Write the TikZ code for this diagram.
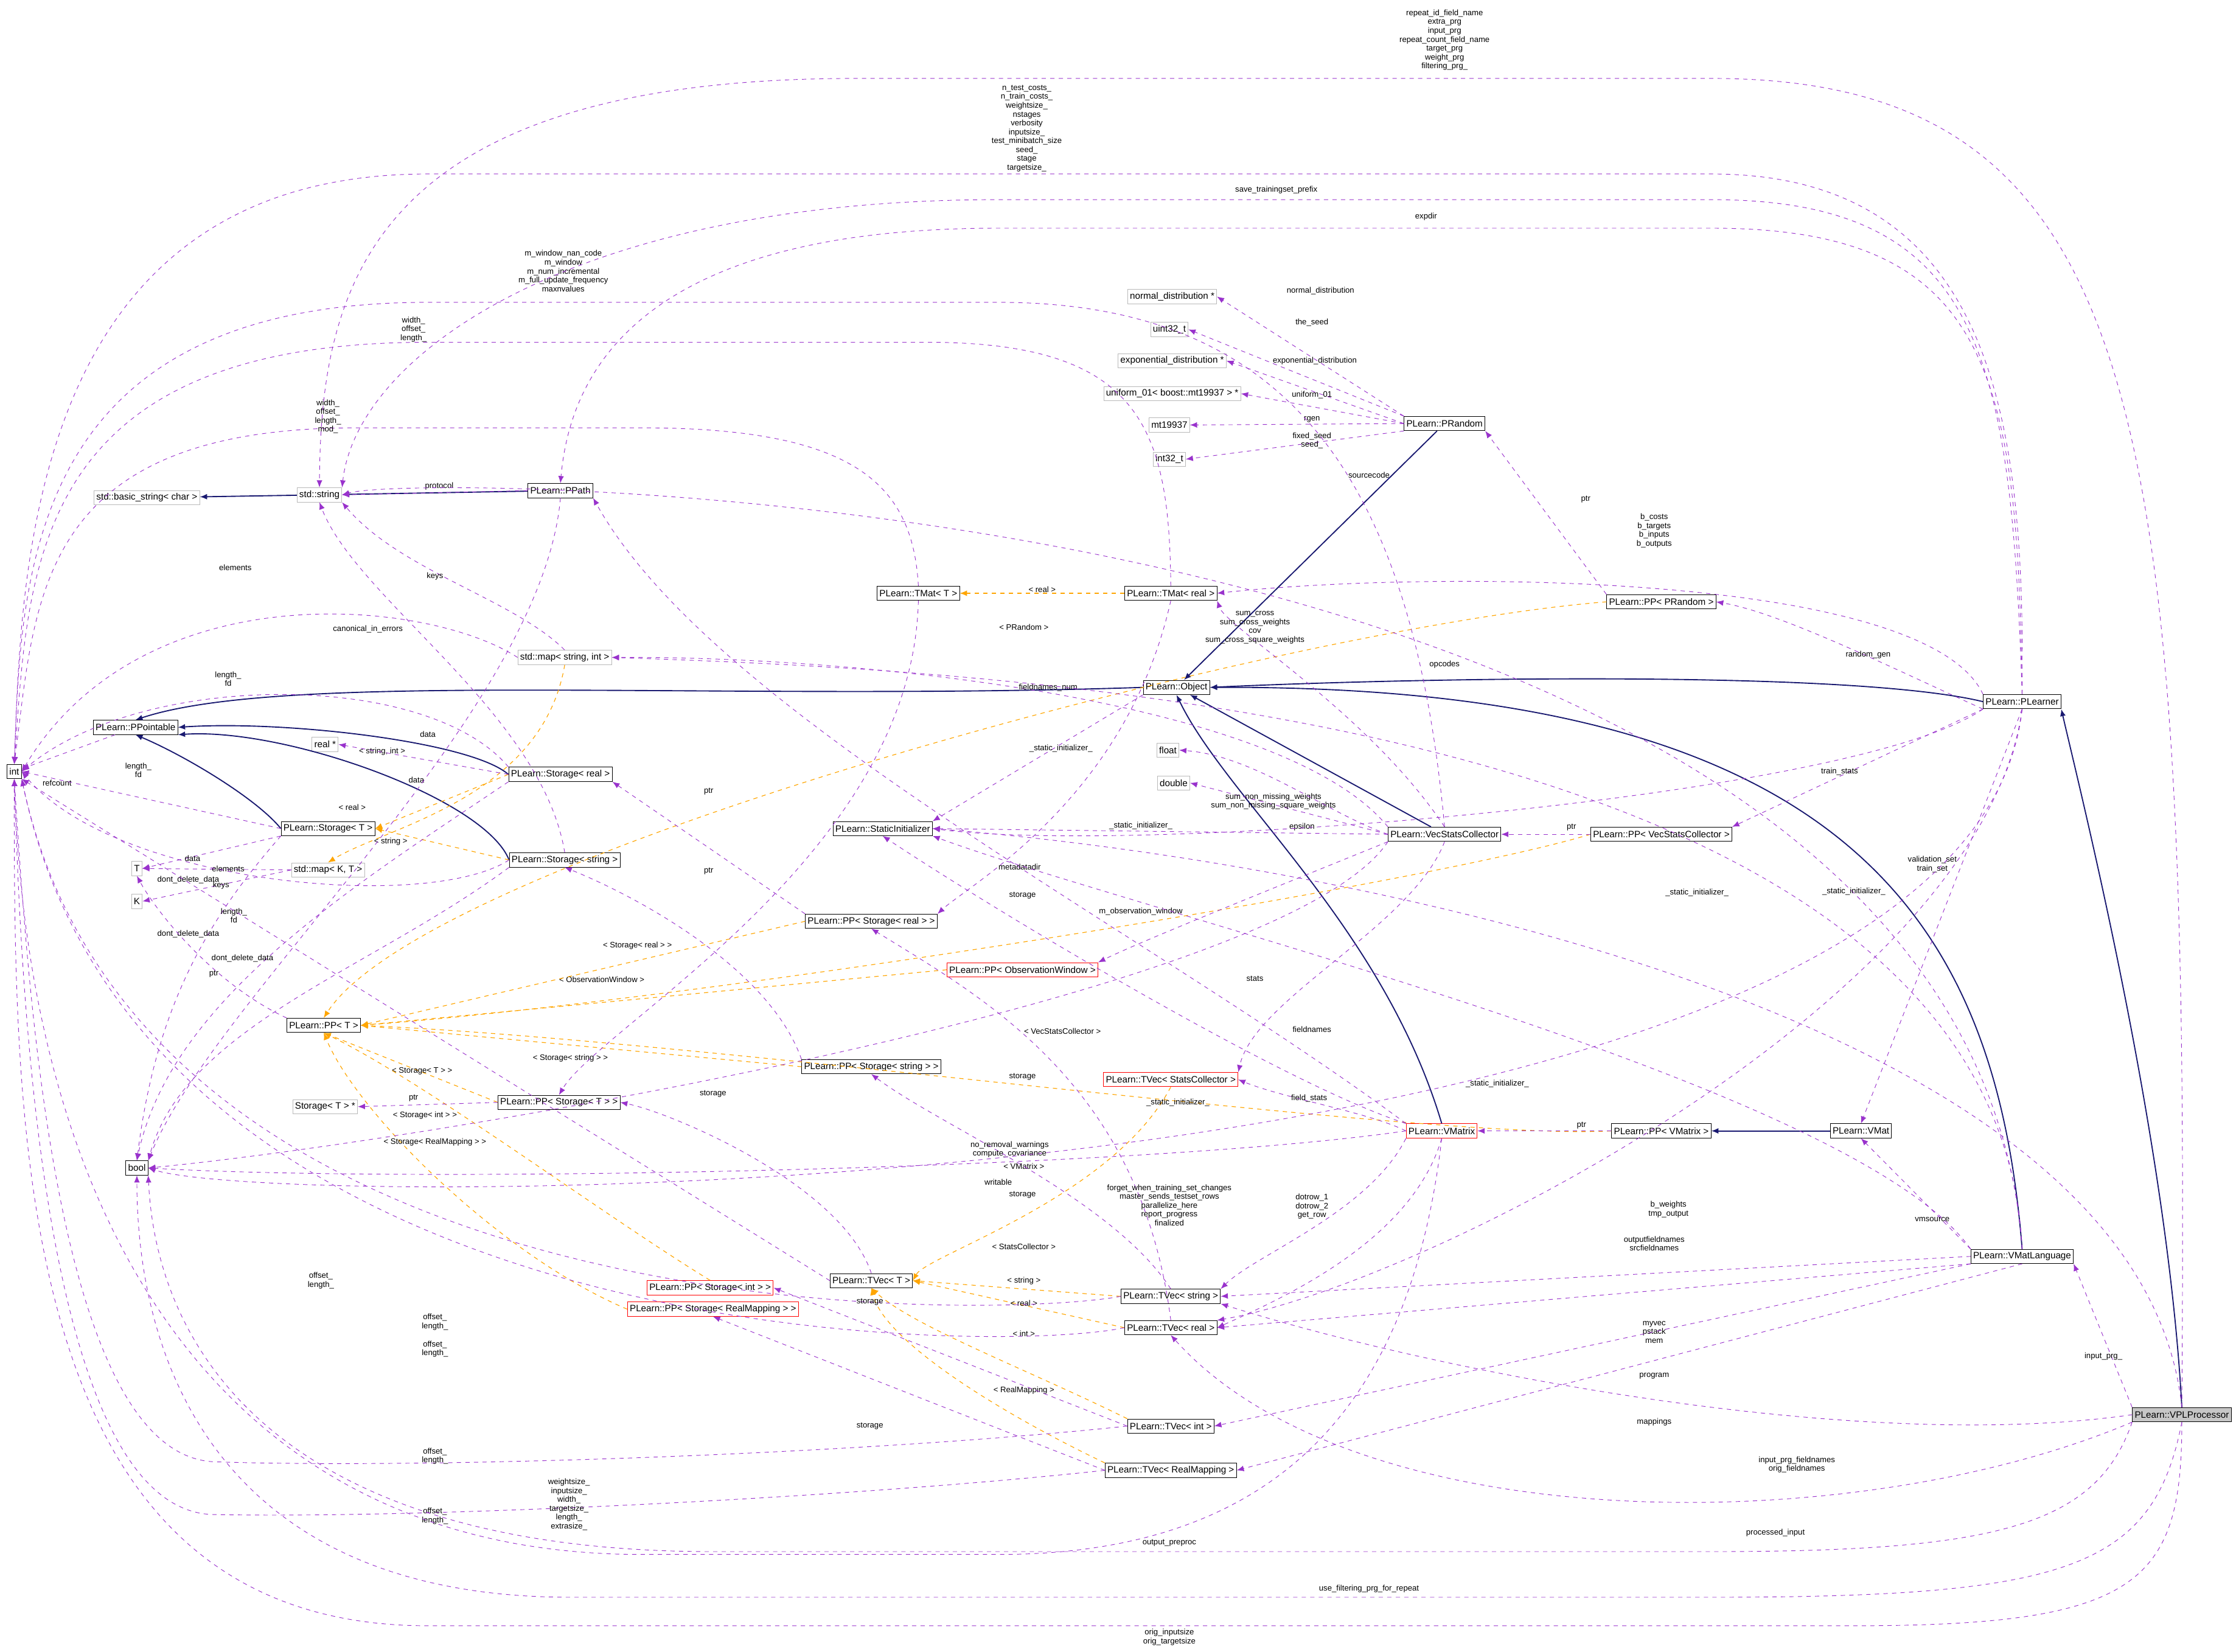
\documentclass[tikz,border=0pt]{standalone}
\usepackage{fontspec}
\setmainfont{Liberation Sans}
\usetikzlibrary{arrows.meta}

\definecolor{navyline}{RGB}{25,25,112}
\definecolor{useline}{RGB}{153,50,204}
\definecolor{tmplline}{RGB}{255,165,0}

\tikzset{
    cls/.style={draw=black, fill=white, font=\fontsize{6.5}{7}\selectfont, inner sep=1.6pt, minimum height=10pt},
    redcls/.style={cls, draw=red},
    graycls/.style={cls, draw=gray!55},
    selcls/.style={cls, fill=gray!45},
    inh/.style={navyline, line width=0.8pt, -{Latex[length=5pt,width=4pt]}},
    uses/.style={useline, dashed, line width=0.4pt, -{Latex[length=5pt,width=4pt]}},
    tmpl/.style={tmplline, dashed, line width=0.5pt, -{Latex[length=5pt,width=4pt]}},
    lbl/.style={font=\fontsize{5.6}{6.2}\selectfont, align=center, inner sep=0.5pt, text=black},
}

\begin{document}
\begin{tikzpicture}[x=1pt, y=-1pt]
        % bounding box of the picture
        \useasboundingbox (0,0) rectangle (1568,1158);

        % basic types
        \node [cls] (int) at (10,541) {int};
        \node [cls] (bool) at (96,819) {bool};
        \node [graycls] (T) at (96,609) {T};
        \node [graycls] (K) at (96,632) {K};
        \node [graycls] (bstr) at (103,349) {std::basic\_string< char >};
        \node [graycls] (str) at (224,347) {std::string};
        \node [graycls] (realp) at (228,522) {real *};
        \node [graycls] (mapKT) at (230,610) {std::map< K, T >};
        \node [graycls] (stTp) at (228,776) {Storage< T > *};
        \node [graycls] (mapSI) at (396,461) {std::map< string, int >};
        \node [graycls] (float) at (819,526) {float};
        \node [graycls] (double) at (823,549) {double};
        \node [graycls] (ndist) at (822,208) {normal\_distribution *};
        \node [graycls] (u32) at (820,231) {uint32\_t};
        \node [graycls] (edist) at (822,253) {exponential\_distribution *};
        \node [graycls] (unif) at (822,276) {uniform\_01< boost::mt19937 > *};
        \node [graycls] (mt) at (820,298) {mt19937};
        \node [graycls] (i32) at (820,322) {int32\_t};

        % PLearn classes
        \node [cls] (ppt) at (95,510) {PLearn::PPointable};
        \node [cls] (stT) at (230,581) {PLearn::Storage< T >};
        \node [cls] (ppT) at (227,719) {PLearn::PP< T >};
        \node [cls] (ppath) at (393,344) {PLearn::PPath};
        \node [cls] (stR) at (393,543) {PLearn::Storage< real >};
        \node [cls] (stS) at (396,603) {PLearn::Storage< string >};
        \node [cls] (ppST) at (392,773) {PLearn::PP< Storage< T > >};
        \node [cls] (tmatT) at (644,416) {PLearn::TMat< T >};
        \node [cls] (sinit) at (619,581) {PLearn::StaticInitializer};
        \node [cls] (ppSR) at (611,646) {PLearn::PP< Storage< real > >};
        \node [cls] (ppSS) at (611,748) {PLearn::PP< Storage< string > >};
        \node [redcls] (ppSI) at (498,903) {PLearn::PP< Storage< int > >};
        \node [redcls] (ppSRM) at (500,918) {PLearn::PP< Storage< RealMapping > >};
        \node [cls] (tvT) at (611,898) {PLearn::TVec< T >};
        \node [cls] (tvI) at (821,1000) {PLearn::TVec< int >};
        \node [cls] (tvRM) at (821,1031) {PLearn::TVec< RealMapping >};
        \node [cls] (tvS) at (821,909) {PLearn::TVec< string >};
        \node [cls] (tvR) at (821,931) {PLearn::TVec< real >};
        \node [redcls] (ppOW) at (717,680) {PLearn::PP< ObservationWindow >};
        \node [redcls] (tvSC) at (821,757) {PLearn::TVec< StatsCollector >};
        \node [redcls] (vmx) at (1011,793) {PLearn::VMatrix};
        \node [cls] (tmatR) at (821,416) {PLearn::TMat< real >};
        \node [cls] (obj) at (825,482) {PLearn::Object};
        \node [cls] (vsc) at (1013,585) {PLearn::VecStatsCollector};
        \node [cls] (prand) at (1013,297) {PLearn::PRandom};
        \node [cls] (ppPR) at (1165,422) {PLearn::PP< PRandom >};
        \node [cls] (ppVSC) at (1165,585) {PLearn::PP< VecStatsCollector >};
        \node [cls] (ppVM) at (1165,793) {PLearn::PP< VMatrix >};
        \node [cls] (pl) at (1418,492) {PLearn::PLearner};
        \node [cls] (vmat) at (1305,793) {PLearn::VMat};
        \node [cls] (vml) at (1418,881) {PLearn::VMatLanguage};
        \node [selcls] (vpl) at (1530,992) {PLearn::VPLProcessor};

        % inheritance
        \draw [inh] (str) -- (bstr);
        \draw [inh] (ppath) -- (str);
        \draw [inh] (obj.west) .. controls (500,492) and (200,470) .. (ppt.north);
        \draw [inh] (stT.west) .. controls (180,560) and (130,530) .. (ppt.south);
        \draw [inh] (stR.west) .. controls (330,520) and (200,505) .. (ppt.east);
        \draw [inh] (stS.west) .. controls (340,560) and (200,510) .. (ppt.south east);
        \draw [inh] (prand) -- (obj);
        \draw [inh] (pl.west) .. controls (1300,470) and (1000,475) .. (obj.east);
        \draw [inh] (vsc) -- (obj);
        \draw [inh] (vmx.north) .. controls (970,650) and (860,560) .. (obj.south);
        \draw [inh] (vml.north) .. controls (1400,650) and (1300,480) .. (obj.east);
        \draw [inh] (vpl.north) .. controls (1520,800) and (1460,560) .. (pl.south east);
        \draw [inh] (vmat) -- (ppVM);

        % template instances
        \draw [tmpl] (tmatR) -- node[lbl, above] {< real >} (tmatT);
        \draw [tmpl] (ppPR.west) .. controls (900,440) and (300,600) .. (ppT.north);
        \node [lbl] at (718,440) {< PRandom >};
        \draw [tmpl] (ppVSC.west) .. controls (1000,620) and (500,700) .. (ppT.east);
        \node [lbl] at (745,723) {< VecStatsCollector >};
        \draw [tmpl] (ppOW.west) -- (ppT.east);
        \node [lbl] at (422,687) {< ObservationWindow >};
        \draw [tmpl] (ppSR.west) -- (ppT.east);
        \node [lbl] at (447,663) {< Storage< real > >};
        \draw [tmpl] (ppSS.west) -- (ppT.east);
        \node [lbl] at (400,742) {< Storage< string > >};
        \draw [tmpl] (ppST.west) -- (ppT.south);
        \node [lbl] at (296,751) {< Storage< T > >};
        \draw [tmpl] (ppSI.north) .. controls (420,850) and (300,760) .. (ppT.south);
        \node [lbl] at (298,782) {< Storage< int > >};
        \draw [tmpl] (ppSRM.west) .. controls (350,880) and (250,780) .. (ppT.south);
        \node [lbl] at (305,801) {< Storage< RealMapping > >};
        \draw [tmpl] (ppVM.west) .. controls (1000,800) and (500,730) .. (ppT.east);
        \node [lbl] at (718,818) {< VMatrix >};
        \draw [tmpl] (stR.west) -- (stT.east);
        \node [lbl] at (247,566) {< real >};
        \draw [tmpl] (stS.west) -- (stT.east);
        \node [lbl] at (274,590) {< string >};
        \draw [tmpl] (mapSI.south) .. controls (380,560) and (270,580) .. (mapKT.north);
        \node [lbl] at (268,527) {< string, int >};
        \draw [tmpl] (tvSC.south) .. controls (780,840) and (650,880) .. (tvT.east);
        \node [lbl] at (718,874) {< StatsCollector >};
        \draw [tmpl] (tvS.west) -- (tvT.east);
        \node [lbl] at (718,898) {< string >};
        \draw [tmpl] (tvR.west) -- (tvT.east);
        \node [lbl] at (718,914) {< real >};
        \draw [tmpl] (tvI.north west) .. controls (720,960) and (640,930) .. (tvT.south);
        \node [lbl] at (718,935) {< int >};
        \draw [tmpl] (tvRM.north west) .. controls (700,990) and (620,940) .. (tvT.south);
        \node [lbl] at (718,975) {< RealMapping >};

        % members: storage and small classes
        \draw [uses] (ppt) -- (int);
        \node [lbl] at (40,549) {refcount};
        \draw [uses] (stT.west) -- (int.east);
        \node [lbl] at (97,540) {length\_\\fd};
        \draw [uses] (stT.south west) -- (T.east);
        \node [lbl] at (135,602) {data};
        \draw [uses] (stT.south west) .. controls (150,640) and (110,700) .. (bool.north);
        \node [lbl] at (132,617) {dont\_delete\_data};
        \draw [uses] (mapKT.west) -- (T.east);
        \node [lbl] at (160,609) {elements};
        \draw [uses] (mapKT.west) -- (K.east);
        \node [lbl] at (155,621) {keys};
        \draw [uses] (stR.west) -- (realp.east);
        \node [lbl] at (300,515) {data};
        \draw [uses] (stR.north west) .. controls (300,470) and (100,470) .. (int.east);
        \node [lbl] at (160,476) {length\_\\fd};
        \draw [uses] (stR.south west) .. controls (250,620) and (120,700) .. (bool.north);
        \node [lbl] at (132,655) {dont\_delete\_data};
        \draw [uses] (stS.north) .. controls (380,500) and (250,420) .. (str.south);
        \node [lbl] at (292,547) {data};
        \draw [uses] (stS.west) .. controls (300,640) and (80,620) .. (int.east);
        \node [lbl] at (164,642) {length\_\\fd};
        \draw [uses] (stS.south west) .. controls (260,680) and (130,720) .. (bool.north east);
        \node [lbl] at (170,672) {dont\_delete\_data};
        \draw [uses] (ppT.north west) .. controls (150,690) and (110,640) .. (T.south);
        \node [lbl] at (150,683) {ptr};
        \draw [uses] (ppST.west) -- (stTp.east);
        \node [lbl] at (290,770) {ptr};
        \draw [uses] (mapSI.west) .. controls (300,420) and (100,400) .. (int.east);
        \node [lbl] at (165,398) {elements};
        \draw [uses] (mapSI.north) .. controls (360,420) and (280,400) .. (str.south east);
        \node [lbl] at (305,404) {keys};
        \draw [uses] (ppath.south) .. controls (380,500) and (150,700) .. (bool.north east);
        \node [lbl] at (258,441) {canonical\_in\_errors};
        \draw [uses] (ppath.west) -- (str.east);
        \node [lbl] at (308,341) {protocol};

        % TMat and TVec
        \draw [uses] (tmatT.north) .. controls (640,340) and (600,300) .. (450,300) -- (250,300) .. controls (25,300) and (25,420) .. (int.north);
        \node [lbl] at (230,292) {width\_\\offset\_\\length\_\\mod\_};
        \draw [uses] (tmatT.south) .. controls (640,600) and (420,720) .. (ppST.north);
        \draw [uses] (tmatR.north) .. controls (820,300) and (800,240) .. (650,240) -- (300,240) .. controls (20,240) and (20,400) .. (int.north);
        \node [lbl] at (290,231) {width\_\\offset\_\\length\_};
        \draw [uses] (tmatR.south) .. controls (790,560) and (680,620) .. (ppSR.north east);
        \node [lbl] at (717,628) {storage};
        \draw [uses] (ppSR.north west) -- (stR.south east);
        \node [lbl] at (497,555) {ptr};
        \draw [uses] (ppSS.north west) .. controls (540,680) and (450,630) .. (stS.south);
        \node [lbl] at (497,611) {ptr};
        \draw [uses] (tvT.west) -- (int.south east);
        \node [lbl] at (225,898) {offset\_\\length\_};
        \draw [uses] (tvT.north) .. controls (590,830) and (470,780) .. (ppST.east);
        \node [lbl] at (500,767) {storage};
        \draw [uses] (tvS.west) .. controls (700,925) and (100,940) .. (int.south east);
        \node [lbl] at (305,927) {offset\_\\length\_};
        \draw [uses] (tvS.north) .. controls (780,840) and (660,790) .. (ppSS.south);
        \node [lbl] at (717,838) {storage};
        \draw [uses] (tvR.west) .. controls (700,950) and (100,950) .. (int.south east);
        \node [lbl] at (305,946) {offset\_\\length\_};
        \draw [uses] (tvR.north) .. controls (800,760) and (690,700) .. (ppSR.south);
        \node [lbl] at (717,755) {storage};
        \draw [uses] (tvI.west) .. controls (600,1020) and (300,1030) .. (150,1025) .. controls (40,1020) and (20,700) .. (int.south);
        \node [lbl] at (305,1021) {offset\_\\length\_};
        \draw [uses] (tvI.west) -- (ppSI.east);
        \node [lbl] at (610,913) {storage};
        \draw [uses] (tvRM.west) .. controls (600,1050) and (300,1065) .. (150,1062) .. controls (30,1060) and (15,700) .. (int.south);
        \node [lbl] at (305,1063) {offset\_\\length\_};
        \draw [uses] (tvRM.west) -- (ppSRM.south);
        \node [lbl] at (610,1000) {storage};

        % PRandom
        \draw [uses] (ppPR.north west) -- (prand.south east);
        \node [lbl] at (1112,350) {ptr};
        \draw [uses] (prand.north west) -- (ndist.east);
        \node [lbl] at (926,204) {normal\_distribution};
        \draw [uses] (prand.north west) -- (u32.east);
        \node [lbl] at (920,226) {the\_seed};
        \draw [uses] (prand.west) -- (edist.east);
        \node [lbl] at (922,253) {exponential\_distribution};
        \draw [uses] (prand.west) -- (unif.east);
        \node [lbl] at (920,277) {uniform\_01};
        \draw [uses] (prand.west) -- (mt.east);
        \node [lbl] at (920,294) {rgen};
        \draw [uses] (prand.south west) -- (i32.east);
        \node [lbl] at (920,309) {fixed\_seed\\seed\_};
        \draw [uses] (obj.south west) -- (sinit.north east);
        \node [lbl] at (744,525) {\_static\_initializer\_};

        % VecStatsCollector
        \draw [uses] (vsc.north west) .. controls (900,490) and (600,460) .. (mapSI.east);
        \node [lbl] at (735,482) {fieldnames\_num};
        \draw [uses] (vsc.north) .. controls (960,500) and (860,440) .. (tmatR.south east);
        \node [lbl] at (880,440) {sum\_cross\\sum\_cross\_weights\\cov\\sum\_cross\_square\_weights};
        \draw [uses] (vsc.west) -- (double.east);
        \node [lbl] at (893,562) {sum\_non\_missing\_weights\\sum\_non\_missing\_square\_weights};
        \draw [uses] (vsc.west) .. controls (930,570) and (880,530) .. (float.east);
        \node [lbl] at (913,580) {epsilon};
        \draw [uses] (vsc.north) .. controls (990,330) and (900,212) .. (700,212) -- (300,212) .. controls (20,212) and (15,400) .. (int.north);
        \node [lbl] at (395,190) {m\_window\_nan\_code\\m\_window\\m\_num\_incremental\\m\_full\_update\_frequency\\maxnvalues};
        \draw [uses] (vsc.west) -- (sinit.east);
        \node [lbl] at (800,579) {\_static\_initializer\_};
        \draw [uses] (vsc.south west) .. controls (900,620) and (800,660) .. (ppOW.north east);
        \node [lbl] at (800,639) {m\_observation\_window};
        \draw [uses] (vsc.south) .. controls (990,650) and (880,700) .. (tvSC.north east);
        \node [lbl] at (880,686) {stats};
        \draw [uses] (vsc.south west) .. controls (900,700) and (300,800) .. (bool.east);
        \node [lbl] at (708,806) {no\_removal\_warnings\\compute\_covariance};
        \draw [uses] (ppVSC.west) -- (vsc.east);
        \node [lbl] at (1102,580) {ptr};

        % VMatrix
        \draw [uses] (vmx.west) .. controls (960,780) and (900,770) .. (tvSC.east);
        \node [lbl] at (918,770) {field\_stats};
        \draw [uses] (vmx.north west) .. controls (900,760) and (700,640) .. (sinit.south);
        \node [lbl] at (826,773) {\_static\_initializer\_};
        \draw [uses] (vmx.north west) .. controls (800,650) and (500,500) .. (ppath.south east);
        \node [lbl] at (715,608) {metadatadir};
        \draw [uses] (vmx.west) .. controls (800,820) and (300,830) .. (bool.east);
        \node [lbl] at (700,829) {writable};
        \draw [uses] (vmx.south west) .. controls (960,850) and (880,880) .. (tvS.north east);
        \node [lbl] at (920,722) {fieldnames};
        \draw [uses] (vmx.south) .. controls (990,870) and (900,910) .. (tvR.east);
        \node [lbl] at (920,846) {dotrow\_1\\dotrow\_2\\get\_row};
        \draw [uses] (vmx.south) .. controls (990,980) and (900,1090) .. (700,1090) -- (450,1090) .. controls (150,1090) and (20,850) .. (int.south);
        \node [lbl] at (399,1055) {weightsize\_\\inputsize\_\\width\_\\targetsize\_\\length\_\\extrasize\_};
        \draw [uses] (ppVM.west) -- (vmx.east);
        \node [lbl] at (1109,789) {ptr};

        % PLearner
        \draw [uses] (pl.north) .. controls (1420,300) and (1400,122) .. (1200,122) -- (300,122) .. controls (20,122) and (15,400) .. (int.north);
        \node [lbl] at (720,90) {n\_test\_costs\_\\n\_train\_costs\_\\weightsize\_\\nstages\\verbosity\\inputsize\_\\test\_minibatch\_size\\seed\_\\stage\\targetsize\_};
        \draw [uses] (pl.north) .. controls (1415,260) and (1395,160) .. (1200,160) -- (700,160) .. controls (450,160) and (400,260) .. (ppath.north);
        \node [lbl] at (1000,152) {expdir};
        \draw [uses] (pl.north) .. controls (1410,250) and (1390,140) .. (1200,140) -- (700,140) .. controls (400,140) and (250,250) .. (str.north east);
        \node [lbl] at (895,133) {save\_trainingset\_prefix};
        \draw [uses] (pl.south west) .. controls (1330,470) and (1250,430) .. (ppPR.east);
        \node [lbl] at (1310,459) {random\_gen};
        \draw [uses] (pl.north west) .. controls (1350,400) and (1000,400) .. (tmatR.east);
        \node [lbl] at (1160,372) {b\_costs\\b\_targets\\b\_inputs\\b\_outputs};
        \draw [uses] (pl.south west) -- (ppVSC.north east);
        \node [lbl] at (1290,541) {train\_stats};
        \draw [uses] (pl.south) -- (vmat.north);
        \node [lbl] at (1355,606) {validation\_set\\train\_set};
        \draw [uses] (pl.south west) .. controls (1300,560) and (800,600) .. (sinit.east);
        \node [lbl] at (1190,626) {\_static\_initializer\_};
        \draw [uses] (pl.south) .. controls (1380,850) and (200,850) .. (bool.east);
        \node [lbl] at (820,845) {forget\_when\_training\_set\_changes\\master\_sends\_testset\_rows\\parallelize\_here\\report\_progress\\finalized};
        \draw [uses] (pl.south) .. controls (1390,700) and (1000,900) .. (tvR.north east);
        \node [lbl] at (1170,848) {b\_weights\\tmp\_output};

        % VMatLanguage
        \draw [uses] (vml.north west) -- (vmat.south);
        \node [lbl] at (1355,855) {vmsource};
        \draw [uses] (vml.west) -- (tvS.east);
        \node [lbl] at (1160,872) {outputfieldnames\\srcfieldnames};
        \draw [uses] (vml.south west) -- (tvR.east);
        \node [lbl] at (1160,934) {myvec\\pstack\\mem};
        \draw [uses] (vml.south west) -- (tvI.east);
        \node [lbl] at (1160,965) {program};
        \draw [uses] (vml.south) -- (tvRM.east);
        \node [lbl] at (1160,997) {mappings};
        \draw [uses] (vml.north west) .. controls (1300,760) and (800,640) .. (sinit.south east);
        \node [lbl] at (1050,760) {\_static\_initializer\_};
        \draw [uses] (vml.north) .. controls (1400,500) and (700,470) .. (mapSI.east);
        \node [lbl] at (1013,466) {opcodes};
        \draw [uses] (vml.north) .. controls (1380,340) and (300,330) .. (str.east);
        \node [lbl] at (960,333) {sourcecode};

        % VPLProcessor
        \draw [uses] (vpl.north) .. controls (1535,300) and (1510,55) .. (1200,55) -- (600,55) .. controls (260,55) and (225,200) .. (str.north);
        \node [lbl] at (1013,28) {repeat\_id\_field\_name\\extra\_prg\\input\_prg\\repeat\_count\_field\_name\\target\_prg\\weight\_prg\\filtering\_prg\_};
        \draw [uses] (vpl.north west) -- (vml.south east);
        \node [lbl] at (1475,951) {input\_prg\_};
        \draw [uses] (vpl.west) .. controls (1300,1020) and (1000,960) .. (tvS.south east);
        \node [lbl] at (1260,1027) {input\_prg\_fieldnames\\orig\_fieldnames};
        \draw [uses] (vpl.south west) .. controls (1300,1080) and (950,1080) .. (tvR.south);
        \node [lbl] at (1245,1075) {processed\_input};
        \draw [uses] (vpl.south west) .. controls (1470,1070) and (1400,1088) .. (1200,1088) -- (500,1088) .. controls (200,1088) and (110,950) .. (bool.south east);
        \node [lbl] at (820,1082) {output\_preproc};
        \draw [uses] (vpl.south) .. controls (1510,1100) and (1450,1120) .. (1200,1120) -- (400,1120) .. controls (150,1120) and (96,950) .. (bool.south);
        \node [lbl] at (960,1114) {use\_filtering\_prg\_for\_repeat};
        \draw [uses] (vpl.south) .. controls (1530,1110) and (1500,1140) .. (1300,1140) -- (300,1140) .. controls (10,1140) and (10,800) .. (int.south);
        \node [lbl] at (820,1148) {orig\_inputsize\\orig\_targetsize};
        \draw [uses] (vpl.north) .. controls (1500,700) and (900,600) .. (sinit.east);
        \node [lbl] at (1300,625) {\_static\_initializer\_};

    \end{tikzpicture}
\end{document}
